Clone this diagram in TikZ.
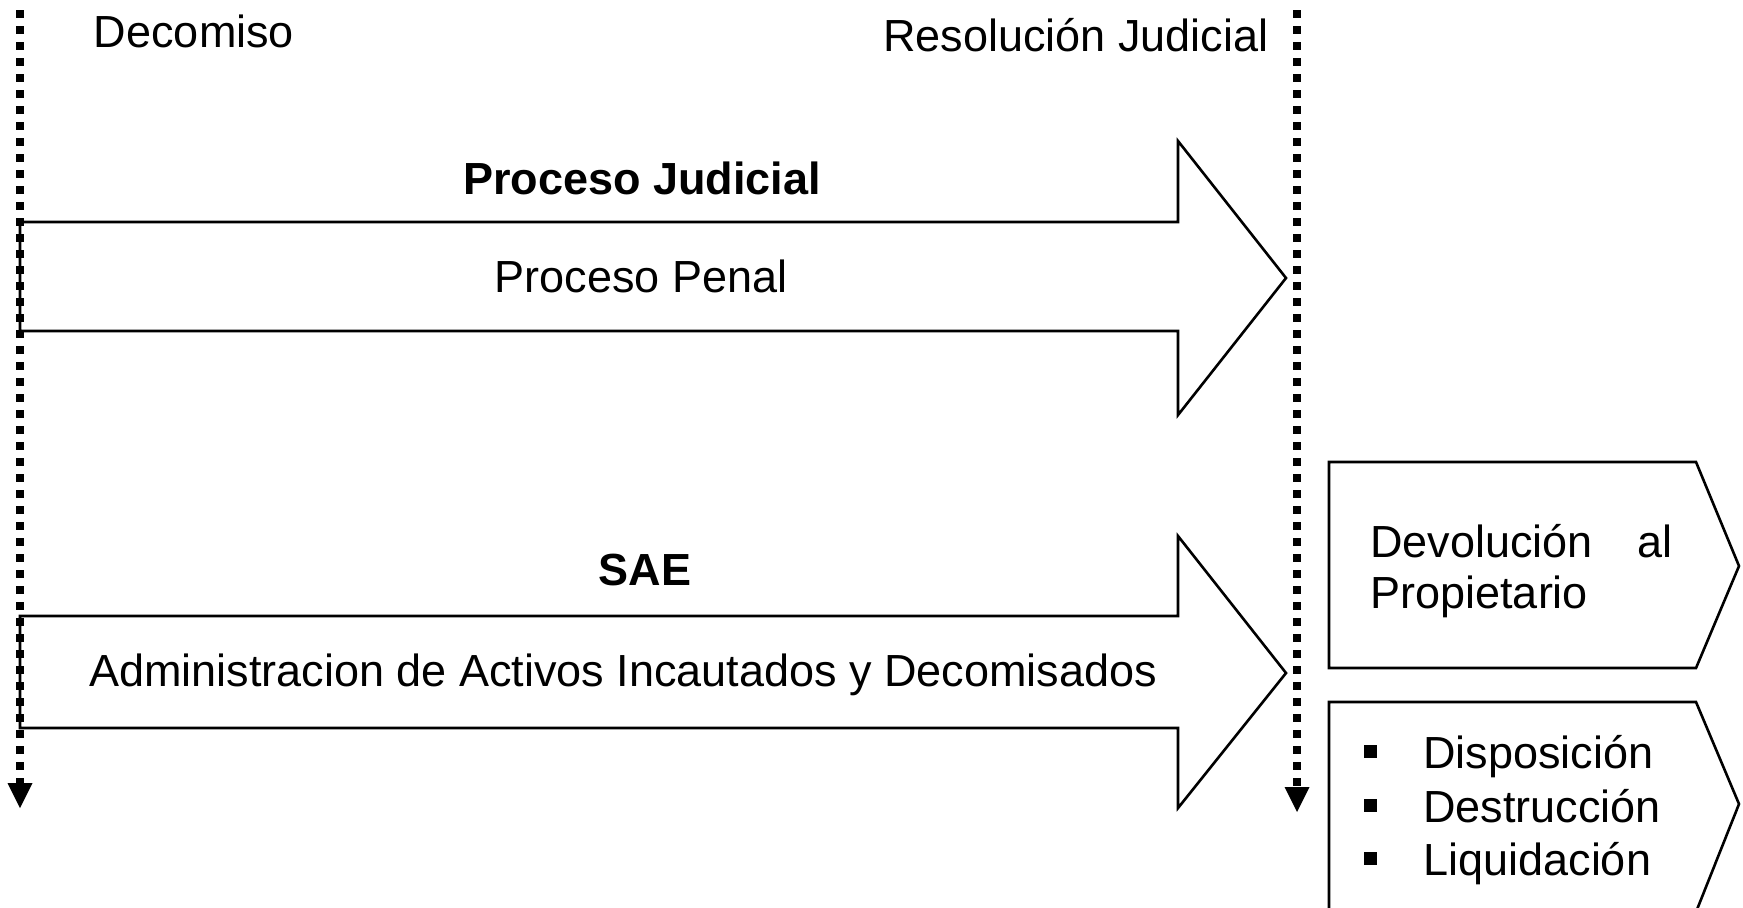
\documentclass[tikz,border=0pt]{standalone}
\usepackage{fontspec}
\setmainfont{Liberation Sans}
\usetikzlibrary{arrows.meta}
\begin{document}
\begin{tikzpicture}[x=0.5pt,y=-0.5pt,
  txt/.style={inner sep=0pt,font=\fontsize{22.5}{27}\selectfont},
  btxt/.style={txt,font=\fontsize{22.5}{27}\selectfont\bfseries},
  bigarrow/.style={draw=black,line width=1.3pt,line join=miter,fill=white},
  tagbox/.style={draw=black,line width=1.3pt,line join=miter,fill=white},
  timeline/.style={line width=4pt,dash pattern=on 4pt off 4pt,
    -{Triangle[length=12.5pt,width=12.5pt,line width=0pt]}}]
\useasboundingbox (0,0) rectangle (1743,907);
% big arrows
\draw[bigarrow] (20,222) -- (1178,222) -- (1178,141) -- (1286,278) -- (1178,415) -- (1178,331) -- (20,331) -- cycle;
\draw[bigarrow] (20,616) -- (1178,616) -- (1178,536) -- (1286,673) -- (1178,808) -- (1178,728) -- (20,728) -- cycle;
% result boxes
\draw[tagbox] (1329,462) -- (1696,462) -- (1739,566) -- (1696,668) -- (1329,668) -- cycle;
\draw[tagbox] (1329,702) -- (1696,702) -- (1739,804) -- (1696,912) -- (1329,912) -- cycle;
% time lines
\coordinate (ltop) at (20,10);
\coordinate (lbot) at (20,808);
\coordinate (rtop) at (1297,10);
\coordinate (rbot) at (1297,812);
\draw[timeline] (ltop) -- (lbot);
\draw[timeline] (rtop) -- (rbot);
% texts
\node[txt,anchor=base] (decomiso) at (194,47) {Decomiso};
\node[txt,anchor=base east] (resol) at (1269,51) {Resolución Judicial};
\node[btxt,anchor=base] (pj) at (642,194) {Proceso Judicial};
\node[txt,anchor=base] (pp) at (641,292) {Proceso Penal};
\node[btxt,anchor=base] (sae) at (645,585) {SAE};
\node[txt,anchor=base] (adm) at (623,686) {Administracion de Activos Incautados y Decomisados};
\node[txt,anchor=base west] (dev1) at (1370,557) {\makebox[151pt][s]{Devolución al}};
\node[txt,anchor=base west] (dev2) at (1370,608) {Propietario};
\node[txt,anchor=base west] (b1) at (1363.5,768) {\rule[5.25pt]{6.5pt}{6.5pt}\hspace{23.25pt}Disposición};
\node[txt,anchor=base west] (b2) at (1363.5,822) {\rule[5.25pt]{6.5pt}{6.5pt}\hspace{23.25pt}Destrucción};
\node[txt,anchor=base west] (b3) at (1363.5,875) {\rule[5.25pt]{6.5pt}{6.5pt}\hspace{23.25pt}Liquidación};
\end{tikzpicture}
\end{document}
